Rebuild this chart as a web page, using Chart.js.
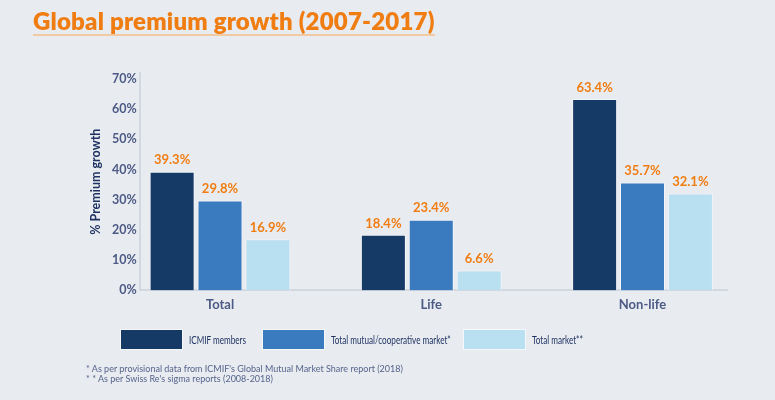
<!DOCTYPE html>
<html>
<head>
<meta charset="utf-8">
<script src="https://cdn.jsdelivr.net/npm/chart.js@4.4.1/dist/chart.umd.min.js"></script>
<style>
    html, body {
        margin: 0;
        padding: 0;
        background: #e8ebf0;
    }
    #wrap {
        position: relative;
        width: 775px;
        height: 400px;
        overflow: hidden;
        font-family: Lato, "Noto Sans", sans-serif;
    }
    #chart {
        position: absolute;
        left: 0;
        top: 0;
    }
    #title {
        position: absolute;
        left: 33px;
        top: 7px;
        margin: 0;
        font-size: 24px;
        font-weight: 800;
        color: #f07d12;
        letter-spacing: 0.2px;
        border-bottom: 2px solid #f1c9a2;
        line-height: 27px;
    }
    .legend-item {
        position: absolute;
        top: 329px;
        display: flex;
        align-items: center;
        white-space: nowrap;
        font-size: 11px;
        color: #1f3362;
    }
    .legend-box {
        width: 61px;
        height: 19px;
        border: 1px solid #f5f7fa;
        margin-right: 6px;
    }
    .legend-text {
        display: inline-block;
        transform: scaleX(0.74);
        transform-origin: left center;
    }
    #notes {
        position: absolute;
        left: 86px;
        top: 364px;
        font-size: 9px;
        line-height: 9.5px;
        color: #56648c;
        white-space: nowrap;
    }
</style>
</head>
<body>
<div id="wrap">
    <canvas id="chart" width="775" height="400"></canvas>
    <h1 id="title">Global premium growth (2007-2017)</h1>
    <div id="legend"></div>
    <div id="notes">
        <div>* As per provisional data from ICMIF's Global Mutual Market Share report (2018)</div>
        <div>* * As per Swiss Re's sigma reports (2008-2018)</div>
    </div>
</div>
<script>
const categories = ['Total', 'Life', 'Non-life'];
const seriesNames = ['ICMIF members', 'Total mutual/cooperative market*', 'Total market**'];
const icmifMembers = [39.3, 18.4, 63.4];
const mutualMarket = [29.8, 23.4, 35.7];
const totalMarket = [16.9, 6.6, 32.1];
const yTicks = [0, 10, 20, 30, 40, 50, 60, 70];

const colors = ['#163a66', '#3a7bc0', '#b8e0f0'];
const legendLefts = [120, 262, 463];

function toPoints(values) {
    return values.map((v, i) => ({ x: i, y: v }));
}

// draws the orange value above each bar
const valueLabels = {
    id: 'valueLabels',
    afterDatasetsDraw(chart) {
        const ctx = chart.ctx;
        ctx.save();
        ctx.font = 'bold 13px Lato, "Noto Sans", sans-serif';
        ctx.fillStyle = '#f07d12';
        ctx.textAlign = 'center';
        ctx.textBaseline = 'bottom';
        chart.data.datasets.forEach((ds, di) => {
            const meta = chart.getDatasetMeta(di);
            meta.data.forEach((bar, i) => {
                ctx.fillText(ds.data[i].y.toFixed(1) + '%', bar.x, bar.y - 5);
            });
        });
        ctx.restore();
    }
};

function buildLegend(chart) {
    const legend = document.getElementById('legend');
    legend.innerHTML = '';
    chart.data.datasets.forEach((ds, i) => {
        const item = document.createElement('div');
        item.className = 'legend-item';
        item.style.left = legendLefts[i] + 'px';
        const box = document.createElement('span');
        box.className = 'legend-box';
        box.style.background = ds.backgroundColor;
        const label = document.createElement('span');
        label.className = 'legend-text';
        label.textContent = ds.label;
        item.appendChild(box);
        item.appendChild(label);
        legend.appendChild(item);
    });
}

const ctx = document.getElementById('chart').getContext('2d');
const chart = new Chart(ctx, {
    type: 'bar',
    data: {
        datasets: [
            { label: seriesNames[0], data: toPoints(icmifMembers), backgroundColor: colors[0] },
            { label: seriesNames[1], data: toPoints(mutualMarket), backgroundColor: colors[1] },
            { label: seriesNames[2], data: toPoints(totalMarket), backgroundColor: colors[2] }
        ]
    },
    options: {
        responsive: false,
        animation: false,
        layout: {
            padding: { left: 88, right: 48, top: 73, bottom: 80 }
        },
        datasets: {
            bar: {
                categoryPercentage: 0.68,
                barPercentage: 0.94,
                borderWidth: 1,
                borderColor: '#f3f5f8'
            }
        },
        plugins: {
            legend: { display: false },
            tooltip: { enabled: false }
        },
        scales: {
            x: {
                type: 'linear',
                offset: false,
                min: -0.38,
                max: 2.4,
                grid: { display: false, drawTicks: false },
                border: { display: true, color: '#d3d7df', width: 2 },
                afterBuildTicks(scale) {
                    scale.ticks = categories.map((c, i) => ({ value: i }));
                },
                ticks: {
                    padding: 7,
                    color: '#4c5a85',
                    font: { family: 'Lato, "Noto Sans", sans-serif', size: 13, weight: 'bold' },
                    callback: (v) => categories[v]
                }
            },
            y: {
                min: 0,
                max: 72,
                grid: { display: false, drawTicks: false },
                border: { display: true, color: '#d3d7df', width: 2 },
                afterBuildTicks(scale) {
                    scale.ticks = yTicks.map((v) => ({ value: v }));
                },
                ticks: {
                    padding: 3,
                    color: '#4c5a85',
                    font: { family: 'Lato, "Noto Sans", sans-serif', size: 12.5, weight: 'bold' },
                    callback: (v) => v + '%'
                },
                title: {
                    display: true,
                    text: '% Premium growth',
                    color: '#1f3362',
                    padding: { top: 0, bottom: 6 },
                    font: { family: 'Lato, "Noto Sans", sans-serif', size: 12.5, weight: 'bold' }
                }
            }
        }
    },
    plugins: [valueLabels]
});

buildLegend(chart);
</script>
</body>
</html>
